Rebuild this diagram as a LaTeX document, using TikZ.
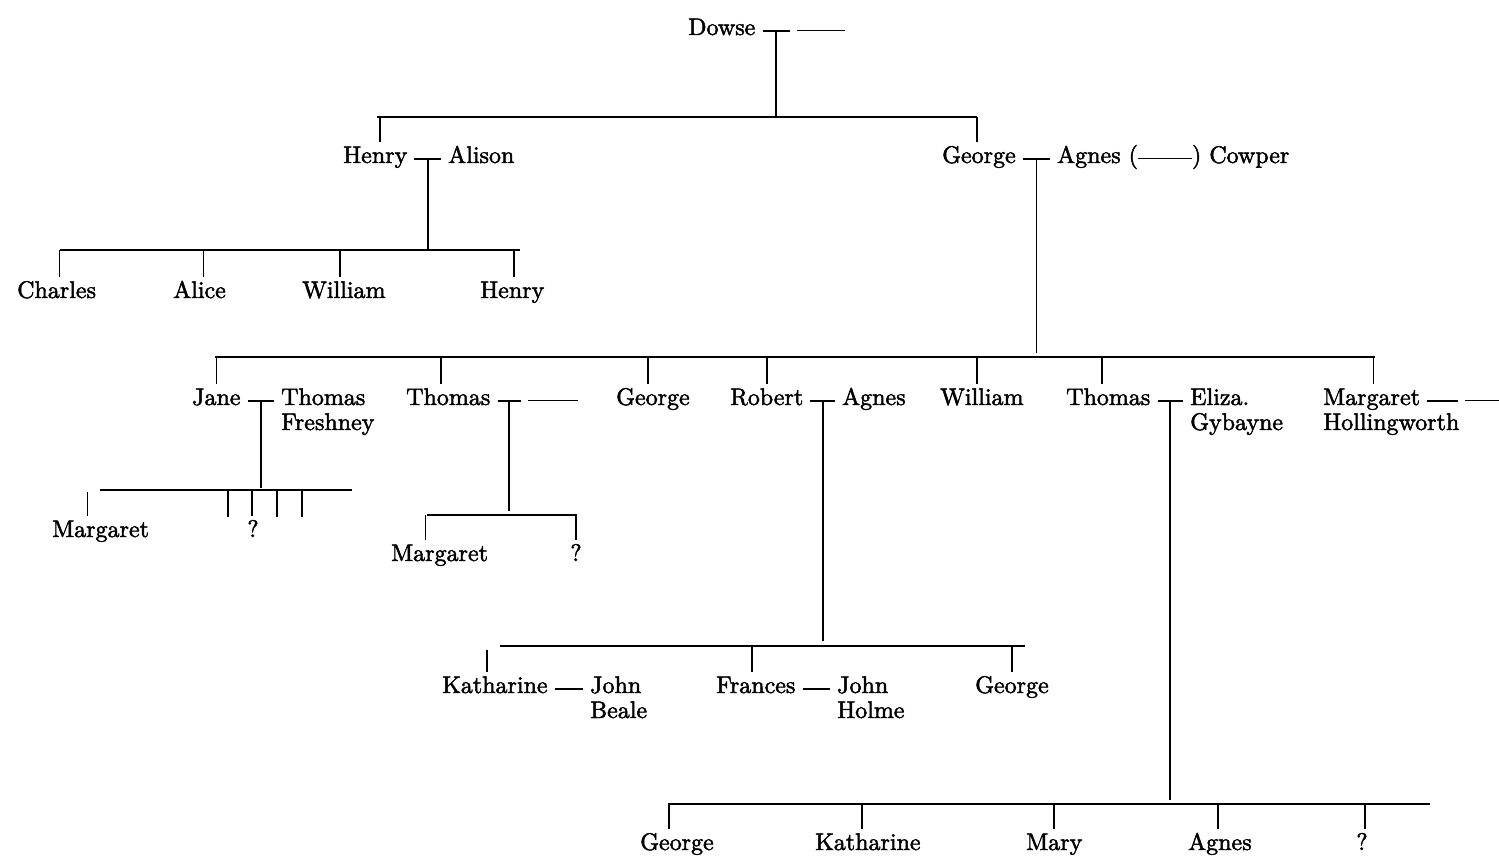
\documentclass[tikz,border=0pt]{standalone}
\usepackage{fontspec}
\newfontfamily\heavyfont{lmroman10-regular.otf}[FakeBold=2]
\newcommand{\two}[2]{\begin{tabular}[t]{@{}l@{}}#1\\#2\end{tabular}}
\newcommand{\unk}[1]{\rule[4pt]{#1}{1.3pt}}
\tikzset{
  nm/.style={inner sep=0pt, anchor=base west, font=\heavyfont\fontsize{24}{25}\selectfont},
  qm/.style={inner sep=0pt, anchor=base, font=\heavyfont\fontsize{24}{25}\selectfont},
  ln/.style={line width=1.6pt},
  drop/.style={ln, shorten >=4pt},
}
\newcommand{\wed}[3]{\draw[ln] ([shift={(7,-4)}]#1.base east) -- ([shift={(-7,-4)}]#2.base west) coordinate[midway] (#3);}
\newcommand{\dropto}[3]{\coordinate (#1-d) at ([xshift=#3]#1.north); \draw[drop] (#1-d |- #2) -- (#1-d);}
\begin{document}
\begin{tikzpicture}[x=1pt,y=-1pt]
\useasboundingbox (0,0) rectangle (1499,858);
% ---------- names ----------
\node[nm] (dowse) at (688,35) {Dowse};
\node[nm] (dowsew) at (797,35) {\unk{48pt}};
\node[nm] (henry) at (343,163) {Henry};
\node[nm] (alison) at (448,163) {Alison};
\node[nm] (george) at (942,163) {George};
\node[nm] (agnes) at (1057,163) {Agnes (\unk{54pt}) Cowper};
\node[nm] (charles) at (17,298) {Charles};
\node[nm] (alice) at (173,298) {Alice};
\node[nm] (william) at (302,298) {William};
\node[nm] (henryb) at (480,298) {Henry};
\node[nm] (jane) at (192,405) {Jane};
\node[nm] (tfresh) at (281,405) {\two{Thomas}{Freshney}};
\node[nm] (thomas) at (406,405) {Thomas};
\node[nm] (thomasw) at (528,405) {\unk{50pt}};
\node[nm] (georgeb) at (616,405) {George};
\node[nm] (robert) at (730,405) {Robert};
\node[nm] (agnesb) at (842,405) {Agnes};
\node[nm] (williamb) at (940,405) {William};
\node[nm] (thomasb) at (1066,405) {Thomas};
\node[nm] (eliza) at (1190,405) {\two{Eliza.}{Gybayne}};
\node[nm] (marg) at (1323,405) {Margaret};
\node[nm] (margh) at (1323,430) {Hollingworth};
\node[nm] (margw) at (1465,405) {\unk{34pt}};
\node[nm] (marga) at (52,537) {Margaret};
\node[qm] (qa) at (253,537) {?};
\node[nm] (margb) at (391,561) {Margaret};
\node[qm] (qb) at (576,561) {?};
\node[nm] (kath) at (442,693) {Katharine};
\node[nm] (jbeale) at (590,693) {\two{John}{Beale}};
\node[nm] (frances) at (716,693) {Frances};
\node[nm] (jholme) at (837,693) {\two{John}{Holme}};
\node[nm] (georgec) at (975,693) {George};
\node[nm] (georged) at (640,850) {George};
\node[nm] (kathb) at (815,850) {Katharine};
\node[nm] (mary) at (1026,850) {Mary};
\node[nm] (agnesc) at (1188,850) {Agnes};
\node[qm] (qc) at (1362,850) {?};
% ---------- bus lines ----------
\coordinate (b1l) at (377,117); \coordinate (b1r) at (977,117);
\coordinate (b2l) at (60,250);  \coordinate (b2r) at (520,250);
\coordinate (b3l) at (215,357); \coordinate (b3r) at (1375,357);
\coordinate (b4l) at (100,490); \coordinate (b4r) at (352,490);
\coordinate (b5l) at (427,515); \coordinate (b5r) at (577,515);
\coordinate (b6l) at (500,646); \coordinate (b6r) at (1025,646);
\coordinate (b7l) at (668,804); \coordinate (b7r) at (1430,804);
\foreach \b in {b1,b2,b3,b4,b5,b6,b7} {\draw[ln] (\b l) -- (\b r);}
% ---------- marriages ----------
\wed{dowse}{dowsew}{m0}
\wed{henry}{alison}{m1}
\wed{george}{agnes}{m2}
\wed{jane}{tfresh}{m3}
\wed{thomas}{thomasw}{m4}
\wed{robert}{agnesb}{m5}
\wed{thomasb}{eliza}{m6}
\wed{marg}{margw}{m7}
\wed{kath}{jbeale}{m8}
\wed{frances}{jholme}{m9}
% ---------- descent lines ----------
\draw[ln] (m0) -- (m0 |- b1l);
\draw[ln] (m1) -- (m1 |- b2l);
\draw[ln] (m2) -- ([yshift=4pt]m2 |- b3l);
\draw[ln] (m3) -- ([yshift=2pt]m3 |- b4l);
\draw[ln] (m4) -- ([yshift=4pt]m4 |- b5l);
\draw[ln] (m5) -- ([yshift=5pt]m5 |- b6l);
\draw[ln] (m6) -- ([yshift=4pt]m6 |- b7l);
% ---------- drops ----------
\dropto{henry}{b1l}{5pt}
\dropto{george}{b1l}{-2pt}
\dropto{charles}{b2l}{3pt}
\dropto{alice}{b2l}{4pt}
\dropto{william}{b2l}{-4pt}
\dropto{henryb}{b2l}{2pt}
\dropto{jane}{b3l}{0pt}
\dropto{thomas}{b3l}{-7pt}
\dropto{georgeb}{b3l}{-5pt}
\dropto{robert}{b3l}{0pt}
\dropto{williamb}{b3l}{-5pt}
\dropto{thomasb}{b3l}{-6pt}
\dropto{marg}{b3l}{2pt}
\coordinate (mad) at ([xshift=-13pt]marga.north);
\draw[drop] ([yshift=-2pt]mad |- b4l) -- (mad);
\dropto{qa}{b4l}{-1pt}
\coordinate (j1) at (228,517); \draw[ln] (j1 |- b4l) -- (j1);
\coordinate (j2) at (277,517); \draw[ln] (j2 |- b4l) -- (j2);
\coordinate (j3) at (302,517); \draw[ln] (j3 |- b4l) -- (j3);
\dropto{margb}{b5l}{-14pt}
\dropto{qb}{b5l}{0pt}
\coordinate (kd) at ([xshift=-8pt]kath.north);
\draw[drop] ([yshift=-4pt]kd |- b6l) -- (kd);
\dropto{frances}{b6l}{-4pt}
\dropto{georgec}{b6l}{0pt}
\dropto{georged}{b7l}{-8pt}
\dropto{kathb}{b7l}{-6pt}
\dropto{mary}{b7l}{0pt}
\dropto{agnesc}{b7l}{-2pt}
\dropto{qc}{b7l}{3pt}
\end{tikzpicture}
\end{document}
